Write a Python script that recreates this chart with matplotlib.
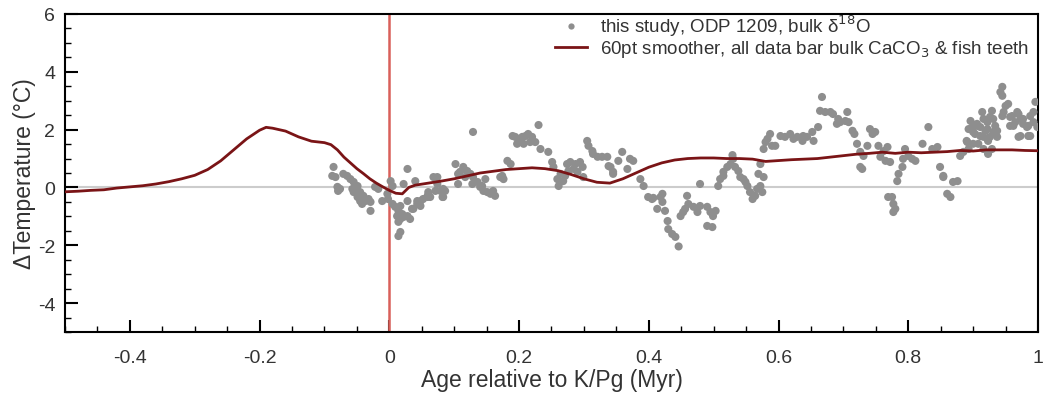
import matplotlib
matplotlib.use("Agg")
import matplotlib.pyplot as plt
from matplotlib.lines import Line2D
from matplotlib.ticker import MultipleLocator, FuncFormatter
import numpy as np

plt.rcParams["font.family"] = ["Liberation Sans", "DejaVu Sans"]
plt.rcParams["axes.unicode_minus"] = False

DOT   = "#8e8e8e"
LINE  = "#7a1416"
KPG   = "#d9605a"
ZERO  = "#cccccc"
TEXT  = "#333333"

# 60pt smoother (age in Myr, delta T in degC)
smooth_age = [-0.50, -0.48, -0.46, -0.44, -0.42, -0.40, -0.38, -0.36, -0.34, -0.32,
              -0.30, -0.28, -0.26, -0.24, -0.22, -0.20, -0.19, -0.18, -0.16, -0.14,
              -0.12, -0.10, -0.09, -0.08, -0.07, -0.06, -0.05, -0.04, -0.03, -0.02,
              -0.01, 0.00, 0.01, 0.02, 0.03, 0.04, 0.06, 0.08, 0.10, 0.12,
              0.14, 0.16, 0.18, 0.20, 0.22, 0.24, 0.26, 0.28, 0.30, 0.32,
              0.34, 0.36, 0.38, 0.40, 0.42, 0.44, 0.46, 0.48, 0.50, 0.52,
              0.54, 0.56, 0.58, 0.60, 0.62, 0.64, 0.66, 0.68, 0.70, 0.72,
              0.74, 0.76, 0.78, 0.80, 0.82, 0.84, 0.86, 0.88, 0.90, 0.92,
              0.94, 0.96, 0.98, 1.00]
smooth_dt = [-0.15, -0.13, -0.10, -0.08, -0.02, 0.02, 0.06, 0.12, 0.20, 0.30,
             0.42, 0.62, 0.92, 1.30, 1.68, 1.98, 2.08, 2.05, 1.95, 1.75,
             1.60, 1.55, 1.48, 1.30, 1.05, 0.85, 0.65, 0.48, 0.30, 0.15,
             0.02, -0.10, -0.20, -0.22, 0.00, 0.08, 0.15, 0.22, 0.30, 0.40,
             0.50, 0.56, 0.62, 0.65, 0.68, 0.65, 0.58, 0.45, 0.30, 0.18,
             0.15, 0.30, 0.50, 0.70, 0.85, 0.95, 1.00, 1.02, 1.02, 1.00,
             1.00, 0.98, 0.90, 0.93, 0.96, 0.98, 1.00, 1.05, 1.10, 1.15,
             1.18, 1.22, 1.18, 1.22, 1.20, 1.22, 1.24, 1.28, 1.26, 1.30,
             1.30, 1.30, 1.28, 1.27]

# ODP 1209 bulk d18O points: (age Myr, delta T degC)
bulk_points = [
    (-0.086, 0.71), (-0.088, 0.40), (-0.083, 0.36), (-0.071, 0.47), (-0.065, 0.40),
    (-0.060, 0.29), (-0.080, 0.02), (-0.076, -0.05), (-0.079, -0.12), (-0.055, 0.19),
    (-0.049, 0.05), (-0.057, -0.05), (-0.055, -0.16), (-0.045, -0.16), (-0.040, -0.29),
    (-0.049, -0.33), (-0.045, -0.47), (-0.037, -0.47), (-0.032, -0.40), (-0.029, -0.50),
    (-0.042, -0.57), (-0.029, -0.81), (-0.022, 0.02), (-0.017, -0.05), (-0.011, -0.47),
    (-0.003, -0.22), (0.002, 0.22), (0.005, 0.05), (-0.002, -0.40), (0.005, -0.57),
    (0.009, -0.67), (0.017, -0.64), (0.014, -0.81), (0.020, -0.92), (0.012, -0.99),
    (0.017, -1.09), (0.022, -1.02), (0.014, -1.19), (0.028, 0.64), (0.022, 0.12),
    (0.028, -0.47), (0.032, -1.09), (0.017, -1.54), (0.014, -1.68), (0.037, -0.74),
    (0.043, -0.47), (0.048, -0.47), (0.052, -0.40), (0.059, -0.33), (0.060, -0.16),
    (0.063, -0.33), (0.071, -0.12), (0.074, 0.36), (0.048, -0.64), (0.040, 0.22),
    (0.043, -0.57), (0.035, -0.74), (0.028, -0.99), (0.059, -0.29),
    (0.068, 0.36), (0.074, 0.12), (0.083, -0.05), (0.083, -0.33), (0.079, -0.12),
    (0.086, -0.12), (0.082, -0.33), (0.129, 1.92), (0.102, 0.81), (0.109, 0.54),
    (0.114, 0.71), (0.120, 0.57), (0.125, 0.47), (0.129, 0.36), (0.106, 0.12),
    (0.128, 0.12), (0.136, 0.19), (0.140, 0.02), (0.145, -0.12), (0.151, -0.16),
    (0.156, -0.22), (0.160, -0.12), (0.163, -0.29), (0.171, 0.36), (0.176, 0.29),
    (0.182, 0.92), (0.187, 0.81), (0.190, 1.78), (0.194, 1.75), (0.199, 1.68),
    (0.205, 1.75), (0.210, 1.78), (0.214, 1.85), (0.220, 1.75), (0.197, 1.51),
    (0.207, 1.51), (0.217, 1.57), (0.225, 1.57), (0.230, 2.16), (0.233, 1.33),
    (0.245, 1.23), (0.251, 0.88), (0.253, 0.71), (0.259, 0.29), (0.261, 0.05),
    (0.274, 0.81), (0.276, 0.57), (0.117, 0.36), (0.106, 0.47), (0.148, 0.29),
    (0.143, 0.05), (0.174, 0.40), (0.264, 0.47), (0.268, 0.22), (0.271, 0.40),
    (0.279, 0.88), (0.287, 0.81), (0.294, 0.88), (0.298, 0.71), (0.284, 0.64),
    (0.290, 0.54), (0.299, 0.36), (0.305, 1.61), (0.307, 1.44), (0.313, 1.26),
    (0.314, 1.16), (0.321, 1.06), (0.328, 1.06), (0.336, 1.06), (0.338, 0.74),
    (0.341, 0.71), (0.345, 0.54), (0.345, 0.47), (0.353, 0.92), (0.359, 1.23),
    (0.367, 0.64), (0.371, 0.99), (0.376, 0.92), (0.387, 0.29), (0.392, 0.05),
    (0.399, -0.33), (0.405, -0.40), (0.407, -0.36), (0.418, -0.33), (0.421, -0.22),
    (0.421, -0.50), (0.413, -0.74), (0.425, -0.81), (0.429, -1.16), (0.430, -1.44),
    (0.436, -1.61), (0.441, -1.71), (0.446, -2.04), (0.449, -0.99), (0.453, -0.85),
    (0.456, -0.74), (0.459, -0.29), (0.461, -0.57), (0.469, -0.67), (0.475, -0.85),
    (0.479, -0.64), (0.490, -0.67), (0.495, -0.85), (0.499, -0.99), (0.503, -0.81),
    (0.490, -1.33), (0.498, -1.37), (0.479, 0.12), (0.507, 0.05), (0.510, 0.29),
    (0.515, 0.54), (0.515, 0.40), (0.521, 0.71), (0.526, 0.81), (0.530, 0.99),
    (0.529, 1.12), (0.533, 0.71), (0.538, 0.57), (0.541, 0.36), (0.546, 0.29),
    (0.549, 0.19), (0.552, 0.05), (0.556, -0.16), (0.560, -0.40), (0.564, -0.29),
    (0.567, -0.05), (0.572, 0.05), (0.575, -0.16), (0.569, 0.47), (0.577, 0.36),
    (0.572, 0.81), (0.577, 1.33), (0.580, 1.57), (0.583, 1.68), (0.587, 1.85),
    (0.590, 1.44), (0.595, 1.44), (0.603, 1.78), (0.610, 1.75), (0.618, 1.85),
    (0.623, 1.68), (0.629, 1.75), (0.637, 1.61), (0.638, 1.78), (0.644, 1.75),
    (0.652, 1.92), (0.654, 1.61), (0.661, 2.09), (0.667, 3.13), (0.664, 2.65),
    (0.672, 2.61), (0.680, 2.61), (0.684, 2.54), (0.690, 2.20), (0.692, 2.37),
    (0.695, 2.26), (0.703, 2.30), (0.706, 2.61), (0.708, 2.26), (0.714, 1.96),
    (0.717, 1.85), (0.721, 1.51), (0.726, 1.23), (0.731, 1.09), (0.726, 0.71),
    (0.729, 0.64), (0.737, 1.44), (0.741, 2.02), (0.745, 1.85), (0.749, 1.92),
    (0.754, 1.44), (0.757, 1.06), (0.762, 1.26), (0.765, 0.92), (0.768, 1.40),
    (0.772, 0.88), (0.769, -0.33), (0.775, -0.33), (0.777, -0.57), (0.780, -0.74),
    (0.777, -0.85), (0.783, 0.22), (0.785, 0.47), (0.791, 0.71), (0.792, 0.99),
    (0.795, 1.33), (0.800, 1.09), (0.806, 0.99), (0.811, 0.92), (0.822, 1.51),
    (0.831, 2.09), (0.837, 1.33), (0.845, 1.40), (0.849, 0.71), (0.854, 0.36),
    (0.854, 0.40), (0.860, -0.22), (0.865, -0.33), (0.869, 0.19), (0.876, 0.22),
    (0.880, 1.09), (0.885, 1.23), (0.890, 1.61), (0.891, 1.57), (0.893, 1.33),
    (0.893, 2.02), (0.896, 2.30), (0.899, 2.09), (0.900, 1.92), (0.900, 1.51),
    (0.903, 1.85), (0.906, 2.13), (0.906, 2.20), (0.908, 1.51), (0.911, 1.78),
    (0.911, 2.09), (0.914, 2.61), (0.916, 2.37), (0.916, 1.75), (0.916, 1.33),
    (0.919, 1.96), (0.922, 2.02), (0.922, 2.26), (0.923, 1.16), (0.923, 1.61),
    (0.926, 1.75), (0.926, 2.44), (0.929, 2.65), (0.929, 1.33), (0.931, 2.37),
    (0.931, 1.92), (0.934, 2.13), (0.937, 1.96), (0.937, 1.75), (0.942, 3.30),
    (0.945, 3.48), (0.945, 3.17), (0.945, 2.47), (0.947, 2.61), (0.950, 2.82),
    (0.954, 2.89), (0.957, 2.44), (0.957, 2.13), (0.960, 2.47), (0.962, 2.13),
    (0.965, 2.26), (0.968, 2.61), (0.970, 2.54), (0.970, 1.75), (0.973, 1.78),
    (0.973, 2.37), (0.977, 2.37), (0.977, 2.20), (0.983, 2.09), (0.985, 2.13),
    (0.985, 1.78), (0.988, 2.47), (0.988, 1.78), (0.993, 2.61), (0.993, 2.26),
    (0.996, 2.96), (0.999, 2.09),
]

label_dots = "this study, ODP 1209, bulk δ$^{18}$O"
label_line = "60pt smoother, all data bar bulk CaCO$_3$ & fish teeth"

bulk = np.array(bulk_points)

fig = plt.figure(figsize=(10.45, 4.02), dpi=100)
ax = fig.add_axes([0.0622, 0.1716, 0.9311, 0.7911])

ax.axhline(0, color=ZERO, lw=1.5, zorder=1)
ax.axvline(0, color=KPG, lw=1.8, zorder=2)
ax.scatter(bulk[:, 0], bulk[:, 1], s=34, color=DOT, edgecolors="none", zorder=3)
ax.plot(smooth_age, smooth_dt, color=LINE, lw=2.0, zorder=4)

ax.set_xlim(-0.5, 1.0)
ax.set_ylim(-5, 6)
ax.xaxis.set_major_locator(MultipleLocator(0.2))
ax.xaxis.set_minor_locator(MultipleLocator(0.05))
ax.yaxis.set_major_locator(MultipleLocator(2))
ax.yaxis.set_minor_locator(MultipleLocator(0.5))
ax.xaxis.set_major_formatter(FuncFormatter(lambda v, p: f"{v:g}" if abs(v) > 1e-9 else "0"))
ax.yaxis.set_major_formatter(FuncFormatter(lambda v, p: f"{v:g}"))

ax.tick_params(which="major", direction="in", length=9, width=1.5, labelsize=14,
               labelcolor=TEXT)
ax.tick_params(axis="x", which="major", pad=12)
ax.tick_params(axis="y", which="major", pad=7)
ax.tick_params(which="minor", direction="in", length=4.5, width=1.0)
ax.tick_params(axis="y", which="both", left=True, right=False)
ax.tick_params(axis="x", which="both", bottom=True, top=False)
for s in ax.spines.values():
    s.set_linewidth(1.5)

ax.set_xlabel("Age relative to K/Pg (Myr)", fontsize=16.5, color=TEXT, labelpad=2)
ax.set_ylabel("ΔTemperature (°C)", fontsize=16.5, color=TEXT, labelpad=1)

handles = [Line2D([], [], ls="none", marker="o", ms=4.5, mfc=DOT, mec="none"),
           Line2D([], [], color=LINE, lw=2.0)]
ax.legend(handles, [label_dots, label_line], loc="upper right",
          bbox_to_anchor=(0.993, 1.01), frameon=False, fontsize=13.5,
          labelspacing=0.0, handlelength=1.7, handletextpad=0.7,
          borderaxespad=0.0, borderpad=0.1, labelcolor=TEXT)

fig.savefig("out.png", dpi=100, facecolor="white")
